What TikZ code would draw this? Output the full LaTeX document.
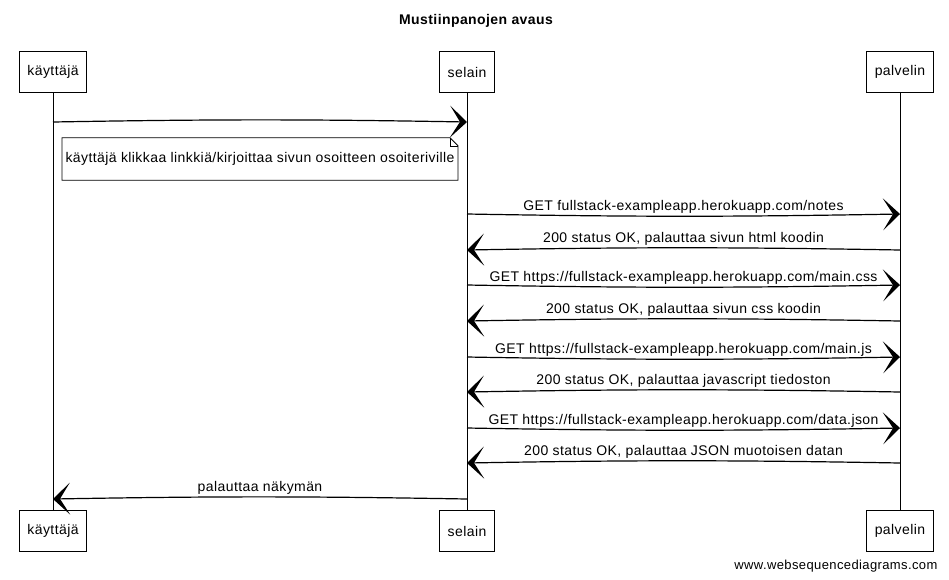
\documentclass[tikz,border=0pt]{standalone}
\usepackage{fontspec}
\setmainfont{Liberation Sans}[LetterSpace=3]
\usetikzlibrary{arrows.meta}
\begin{document}
\begin{tikzpicture}[x=1pt,y=-1pt,>={Stealth[length=17pt,width=32pt,inset=10pt]},
  font=\fontsize{14}{16}\selectfont,
  osapuoli/.style={draw,line width=0.8pt,minimum height=41pt,inner xsep=8pt},
  viesti/.style={->,line width=1.2pt},
  elama/.style={line width=0.6pt}]
   \useasboundingbox (0,0) rectangle (949,579);
   % otsikko
   \node[font=\fontsize{14}{16}\selectfont\bfseries] (otsikko) at (476,21) {Mustiinpanojen avaus};

   % osapuolet
   \node[osapuoli] (k1) at (53,72) {käyttäjä};
   \node[osapuoli] (s1) at (467,72) {selain};
   \node[osapuoli] (p1) at (900,72) {palvelin};
   \node[osapuoli] (k2) at (53,531) {käyttäjä};
   \node[osapuoli] (s2) at (467,531) {selain};
   \node[osapuoli] (p2) at (900,531) {palvelin};
   \draw[elama] (k1) -- (k2);
   \draw[elama] (s1) -- (s2);
   \draw[elama] (p1) -- (p2);

   % käyttäjä -> selain
   \coordinate (ka) at (k1 |- 0,122);
   \coordinate (sa) at (s1 |- 0,122);
   \draw[viesti] (ka) to[bend left=1] (sa);
   \node[minimum width=394pt,minimum height=42pt] (huom) at (260,159)
      {käyttäjä klikkaa linkkiä/kirjoittaa sivun osoitteen osoiteriville};
   \draw[line width=0.8pt] (huom.north west) -- ([xshift=-8pt]huom.north east)
      -- ([yshift=-8pt]huom.north east) -- (huom.south east) -- (huom.south west) -- cycle;
   \draw[line width=0.6pt] ([xshift=-8pt]huom.north east) |- ([yshift=-8pt]huom.north east);

   % selain <-> palvelin
   \foreach \y/\a/\b/\teksti in {
      214/s/p/{GET fullstack-exampleapp.herokuapp.com/notes},
      250/p/s/{200 status OK, palauttaa sivun html koodin},
      285/s/p/{GET https://fullstack-exampleapp.herokuapp.com/main.css},
      321/p/s/{200 status OK, palauttaa sivun css koodin},
      357/s/p/{GET https://fullstack-exampleapp.herokuapp.com/main.js},
      392/p/s/{200 status OK, palauttaa javascript tiedoston},
      428/s/p/{GET https://fullstack-exampleapp.herokuapp.com/data.json},
      463/p/s/{200 status OK, palauttaa JSON muotoisen datan}}{
      \coordinate (\a\y) at (\a1 |- 0,\y);
      \coordinate (\b\y) at (\b1 |- 0,\y);
      \draw[viesti] (\a\y) to[bend right=1] node[above=1pt,inner sep=1pt] {\teksti} (\b\y);
   }

   % selain -> käyttäjä
   \coordinate (sb) at (s1 |- 0,499);
   \coordinate (kb) at (k1 |- 0,499);
   \draw[viesti] (sb) to[bend right=1] node[above=1pt,inner sep=1pt] {palauttaa näkymän} (kb);

   \node[anchor=east,font=\fontsize{13}{15}\selectfont] (wsd) at (941,566) {www.websequencediagrams.com};
\end{tikzpicture}
\end{document}
